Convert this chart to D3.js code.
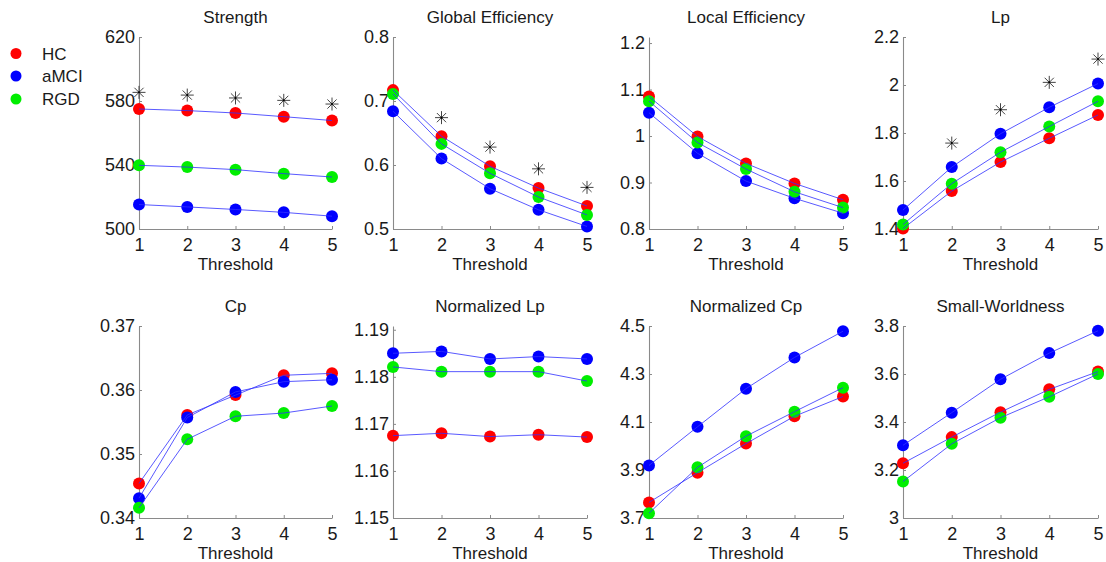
<!DOCTYPE html>
<html>
<head>
<meta charset="utf-8">
<script src="https://cdn.jsdelivr.net/npm/d3@7"></script>
<style>
  html, body { margin: 0; padding: 0; background: #fff; }
  svg { display: block; }
  text { font-family: "Liberation Sans", Arial, sans-serif; fill: #1a1a1a; }
</style>
</head>
<body>
<svg id="chart" width="1106" height="562"></svg>
<script>
// ---------- data ----------
const thresholds = [1, 2, 3, 4, 5];
const groups = ["HC", "aMCI", "RGD"];
const xLabel = "Threshold";

const strengthHC   = [575.0, 574.0, 572.5, 570.2, 567.8];
const strengthAMCI = [515.3, 513.8, 512.2, 510.4, 508.0];
const strengthRGD  = [539.8, 538.7, 537.1, 534.6, 532.5];
const strengthStar = [585.4, 583.7, 581.9, 580.4, 578.1];
const strengthTicks = [500, 540, 580, 620];

const gEffHC   = [0.717, 0.645, 0.598, 0.564, 0.536];
const gEffAMCI = [0.684, 0.610, 0.563, 0.530, 0.504];
const gEffRGD  = [0.711, 0.633, 0.587, 0.550, 0.522];
const gEffStar = [null, 0.674, 0.628, 0.594, 0.565];
const gEffTicks = [0.5, 0.6, 0.7, 0.8];

const lEffHC   = [1.085, 0.999, 0.941, 0.898, 0.863];
const lEffAMCI = [1.050, 0.963, 0.903, 0.866, 0.834];
const lEffRGD  = [1.075, 0.986, 0.929, 0.880, 0.846];
const lEffStar = [null, null, null, null, null];
const lEffTicks = [0.8, 0.9, 1, 1.1, 1.2];

const lpHC   = [1.402, 1.558, 1.679, 1.778, 1.875];
const lpAMCI = [1.479, 1.658, 1.797, 1.907, 2.006];
const lpRGD  = [1.419, 1.589, 1.720, 1.827, 1.932];
const lpStar = [null, 1.758, 1.897, 2.011, 2.108];
const lpTicks = [1.4, 1.6, 1.8, 2, 2.2];

const cpHC   = [0.3454, 0.3561, 0.3592, 0.3623, 0.3626];
const cpAMCI = [0.3431, 0.3557, 0.3597, 0.3613, 0.3616];
const cpRGD  = [0.3416, 0.3523, 0.3559, 0.3564, 0.3575];
const cpStar = [null, null, null, null, null];
const cpTicks = [0.34, 0.35, 0.36, 0.37];

const nLpHC   = [1.1675, 1.1680, 1.1673, 1.1677, 1.1672];
const nLpAMCI = [1.1850, 1.1854, 1.1838, 1.1843, 1.1838];
const nLpRGD  = [1.1821, 1.1811, 1.1811, 1.1811, 1.1791];
const nLpStar = [null, null, null, null, null];
const nLpTicks = [1.15, 1.16, 1.17, 1.18, 1.19];

const nCpHC   = [3.765, 3.889, 4.010, 4.124, 4.206];
const nCpAMCI = [3.919, 4.080, 4.239, 4.369, 4.478];
const nCpRGD  = [3.720, 3.911, 4.041, 4.143, 4.243];
const nCpStar = [null, null, null, null, null];
const nCpTicks = [3.7, 3.9, 4.1, 4.3, 4.5];

const swHC   = [3.228, 3.337, 3.441, 3.536, 3.610];
const swAMCI = [3.303, 3.439, 3.578, 3.687, 3.780];
const swRGD  = [3.152, 3.309, 3.418, 3.505, 3.600];
const swStar = [null, null, null, null, null];
const swTicks = [3, 3.2, 3.4, 3.6, 3.8];

const titles = ["Strength", "Global Efficiency", "Local Efficiency", "Lp",
                "Cp", "Normalized Lp", "Normalized Cp", "Small-Worldness"];

// ---------- panel table built from the arrays ----------
const panels = [
  { title: titles[0], series: [strengthHC, strengthAMCI, strengthRGD], star: strengthStar, ticks: strengthTicks, dmax: 620 },
  { title: titles[1], series: [gEffHC, gEffAMCI, gEffRGD], star: gEffStar, ticks: gEffTicks, dmax: 0.8 },
  { title: titles[2], series: [lEffHC, lEffAMCI, lEffRGD], star: lEffStar, ticks: lEffTicks, dmax: 1.213 },
  { title: titles[3], series: [lpHC, lpAMCI, lpRGD], star: lpStar, ticks: lpTicks, dmax: 2.2 },
  { title: titles[4], series: [cpHC, cpAMCI, cpRGD], star: cpStar, ticks: cpTicks, dmax: 0.37 },
  { title: titles[5], series: [nLpHC, nLpAMCI, nLpRGD], star: nLpStar, ticks: nLpTicks, dmax: 1.1908 },
  { title: titles[6], series: [nCpHC, nCpAMCI, nCpRGD], star: nCpStar, ticks: nCpTicks, dmax: 4.5 },
  { title: titles[7], series: [swHC, swAMCI, swRGD], star: swStar, ticks: swTicks, dmax: 3.8 }
];

// ---------- layout / style ----------
const colX = [[139, 332], [393, 587], [649, 843], [903, 1098]];
const rowY = [[229, 37], [518, 326]];
const groupColors = ["#ff0000", "#0000ff", "#00ee00"];
const tickFont = 18;
const labelFont = 17;

const svg = d3.select("#chart");

panels.forEach((p, i) => {
  const col = i % 4, row = Math.floor(i / 4);
  const x = d3.scaleLinear().domain([1, 5]).range(colX[col]);
  const y = d3.scaleLinear().domain([p.ticks[0], p.dmax]).range(rowY[row]);
  const g = svg.append("g");

  // axes
  const yAxis = d3.axisLeft(y).tickValues(p.ticks).tickFormat(d => String(+d.toFixed(4)))
    .tickSizeInner(-3).tickSizeOuter(0).tickPadding(4);
  const xAxis = d3.axisBottom(x).tickValues(thresholds).tickFormat(d3.format("d"))
    .tickSizeInner(-3).tickSizeOuter(0).tickPadding(9);

  const ya = g.append("g").attr("transform", `translate(${colX[col][0]},0)`).call(yAxis);
  const xa = g.append("g").attr("transform", `translate(0,${rowY[row][0]})`).call(xAxis);
  [ya, xa].forEach(a => {
    a.select(".domain").attr("stroke", "#8a8a8a").attr("stroke-width", 1.1);
    a.selectAll(".tick line").attr("stroke", "#8a8a8a");
    a.selectAll(".tick text").attr("font-size", tickFont)
      .attr("font-family", '"Liberation Sans", Arial, sans-serif').attr("fill", "#1a1a1a");
  });

  // title
  g.append("text")
    .attr("x", (colX[col][0] + colX[col][1]) / 2)
    .attr("y", row === 0 ? 23 : 312)
    .attr("text-anchor", "middle")
    .attr("font-size", labelFont)
    .text(p.title);

  // x label
  g.append("text")
    .attr("x", (colX[col][0] + colX[col][1]) / 2)
    .attr("y", row === 0 ? 270 : 559)
    .attr("text-anchor", "middle")
    .attr("font-size", labelFont)
    .text(xLabel);

  // dots
  p.series.forEach((vals, gi) => {
    g.append("g").selectAll("circle")
      .data(vals)
      .join("circle")
      .attr("cx", (d, k) => x(thresholds[k]))
      .attr("cy", d => y(d))
      .attr("r", 6)
      .attr("fill", groupColors[gi]);
  });

  // lines
  const line = d3.line().x((d, k) => x(thresholds[k])).y(d => y(d));
  p.series.forEach(vals => {
    g.append("path")
      .datum(vals)
      .attr("d", line)
      .attr("fill", "none")
      .attr("stroke", "#3030ff")
      .attr("stroke-opacity", 0.8)
      .attr("stroke-width", 1);
  });

  // significance asterisks
  const a = 6.5, dd = a * 0.7071;
  p.star.forEach((v, k) => {
    if (v == null) return;
    const cx = x(thresholds[k]), cy = y(v);
    g.append("path")
      .attr("d", `M${cx - a},${cy}H${cx + a}M${cx},${cy - a}V${cy + a}` +
                 `M${cx - dd},${cy - dd}L${cx + dd},${cy + dd}M${cx - dd},${cy + dd}L${cx + dd},${cy - dd}`)
      .attr("stroke", "#444")
      .attr("stroke-width", 1)
      .attr("fill", "none");
    g.append("circle").attr("cx", cx).attr("cy", cy).attr("r", 1).attr("fill", "#000");
  });
});

// legend
const legendY = [53.5, 76, 99];
groups.forEach((name, gi) => {
  svg.append("circle").attr("cx", 16).attr("cy", legendY[gi]).attr("r", 5.5).attr("fill", groupColors[gi]);
  svg.append("text").attr("x", 42).attr("y", legendY[gi] + 6)
    .attr("font-size", labelFont).text(name);
});
</script>
</body>
</html>
